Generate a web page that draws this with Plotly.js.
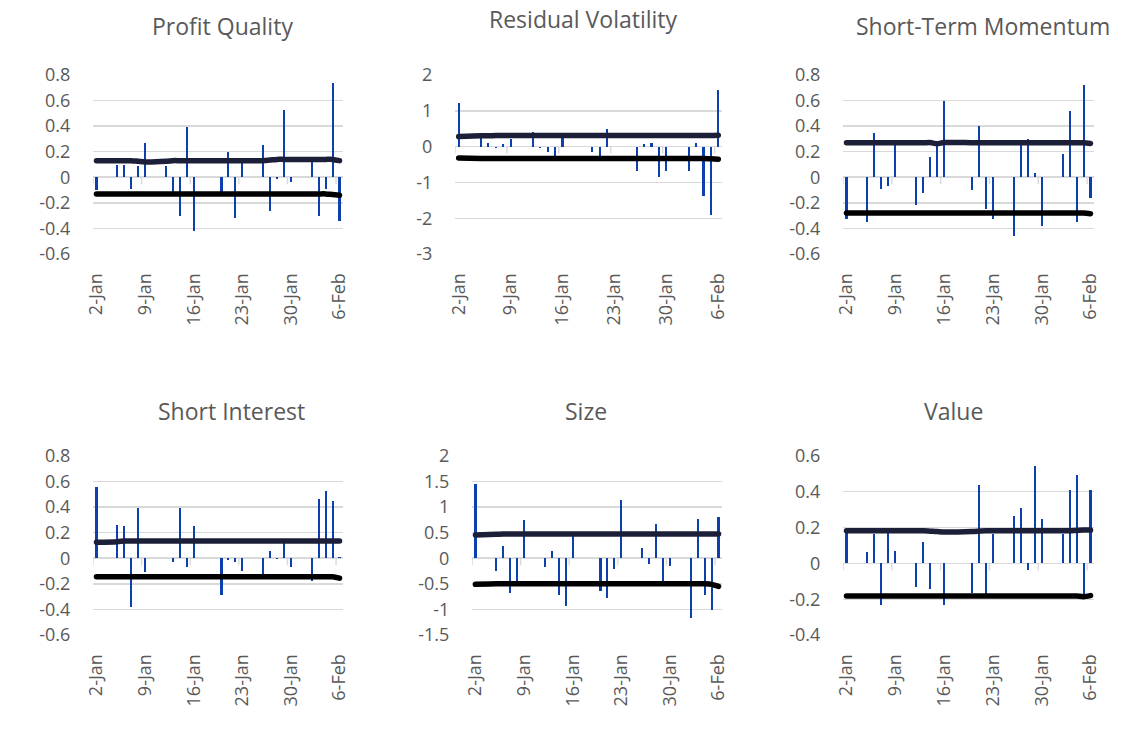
<!DOCTYPE html>
<html>
<head>
<meta charset="utf-8">
<script src="https://cdn.plot.ly/plotly-3.0.1.min.js"></script>
<style>html,body{margin:0;padding:0;background:#fff;}#chart{width:1135px;height:729px;}
#chart .scatterlayer path.js-line{stroke-linecap:round;}</style>
</head>
<body>
<div id="chart"></div>
<script>
// Business days, 2-Jan to 6-Feb 2015
const dates = ['2015-01-02','2015-01-05','2015-01-06','2015-01-07','2015-01-08','2015-01-09',
  '2015-01-12','2015-01-13','2015-01-14','2015-01-15','2015-01-16',
  '2015-01-20','2015-01-21','2015-01-22','2015-01-23',
  '2015-01-26','2015-01-27','2015-01-28','2015-01-29','2015-01-30',
  '2015-02-02','2015-02-03','2015-02-04','2015-02-05','2015-02-06'];

const xTickVals = ['2015-01-02','2015-01-09','2015-01-16','2015-01-23','2015-01-30','2015-02-06'];
const xTickText = ['2-Jan','9-Jan','16-Jan','23-Jan','30-Jan','6-Feb'];
const axisTickDates = ['2015-01-01 12:00','2015-01-08 12:00','2015-01-15 12:00','2015-01-22 12:00','2015-01-29 12:00','2015-02-05 12:00'];

const titles = ['Profit Quality','Residual Volatility','Short-Term Momentum','Short Interest','Size','Value'];

// Profit Quality
const pqBars  = [-0.10,0.10,0.10,-0.09,0.09,0.27,0.09,-0.12,-0.30,0.39,-0.42,-0.15,0.20,-0.32,0.13,0.25,-0.26,-0.01,0.53,-0.04,0.16,-0.30,-0.09,0.74,-0.34];
const pqUpper = [0.13,0.13,0.13,0.13,0.125,0.12,0.125,0.13,0.13,0.13,0.13,0.13,0.13,0.13,0.13,0.13,0.135,0.14,0.14,0.14,0.14,0.14,0.14,0.14,0.13];
const pqLower = [-0.13,-0.13,-0.13,-0.13,-0.13,-0.13,-0.13,-0.13,-0.13,-0.13,-0.13,-0.13,-0.13,-0.13,-0.13,-0.13,-0.13,-0.13,-0.13,-0.13,-0.13,-0.13,-0.13,-0.135,-0.14];
const pqTicks = [0.8,0.6,0.4,0.2,0,-0.2,-0.4,-0.6];
const pqTickText = ['0.8','0.6','0.4','0.2','0','-0.2','-0.4','-0.6'];

// Residual Volatility
const rvBars  = [1.21,0.26,0.11,-0.03,0.08,0.20,0.40,-0.05,-0.16,-0.28,0.24,-0.16,-0.28,0.50,0.00,-0.69,0.06,0.11,-0.84,-0.67,-0.67,0.11,-1.39,-1.90,1.59];
const rvUpper = [0.28,0.30,0.30,0.31,0.31,0.31,0.31,0.31,0.31,0.31,0.31,0.31,0.31,0.31,0.31,0.31,0.31,0.31,0.31,0.31,0.31,0.31,0.31,0.31,0.32];
const rvLower = [-0.32,-0.33,-0.33,-0.33,-0.33,-0.33,-0.33,-0.33,-0.33,-0.33,-0.33,-0.33,-0.33,-0.33,-0.33,-0.33,-0.33,-0.33,-0.33,-0.33,-0.33,-0.33,-0.33,-0.34,-0.35];
const rvTicks = [2,1,0,-1,-2,-3];
const rvTickText = ['2','1','0','-1','-2','-3'];

// Short-Term Momentum
const stBars  = [-0.33,-0.35,0.35,-0.09,-0.07,0.26,-0.22,-0.12,0.16,0.26,0.60,-0.10,0.40,-0.25,-0.33,-0.46,0.26,0.30,0.03,-0.38,0.18,0.52,-0.35,0.72,-0.16];
const stUpper = [0.27,0.27,0.27,0.27,0.27,0.27,0.27,0.27,0.272,0.262,0.272,0.27,0.27,0.27,0.27,0.27,0.27,0.27,0.27,0.27,0.27,0.27,0.27,0.27,0.265];
const stLower = [-0.28,-0.28,-0.28,-0.28,-0.28,-0.28,-0.28,-0.28,-0.28,-0.28,-0.28,-0.28,-0.28,-0.28,-0.28,-0.28,-0.28,-0.28,-0.28,-0.28,-0.28,-0.28,-0.28,-0.28,-0.285];
const stTicks = [0.8,0.6,0.4,0.2,0,-0.2,-0.4,-0.6];
const stTickText = ['0.8','0.6','0.4','0.2','0','-0.2','-0.4','-0.6'];

// Short Interest
const siBars  = [0.56,0.26,0.255,-0.38,0.39,-0.11,0.00,-0.03,0.39,-0.065,0.25,-0.29,-0.01,-0.026,-0.096,-0.15,0.06,-0.005,0.125,-0.065,-0.18,0.46,0.53,0.45,0.01];
const siUpper = [0.125,0.13,0.135,0.135,0.135,0.135,0.135,0.135,0.135,0.135,0.135,0.135,0.135,0.135,0.135,0.135,0.135,0.135,0.135,0.135,0.135,0.135,0.135,0.135,0.135];
const siLower = [-0.145,-0.145,-0.145,-0.145,-0.145,-0.145,-0.145,-0.145,-0.145,-0.145,-0.145,-0.145,-0.145,-0.145,-0.145,-0.145,-0.145,-0.145,-0.145,-0.145,-0.145,-0.145,-0.145,-0.145,-0.155];
const siTicks = [0.8,0.6,0.4,0.2,0,-0.2,-0.4,-0.6];
const siTickText = ['0.8','0.6','0.4','0.2','0','-0.2','-0.4','-0.6'];

// Size
const szBars  = [1.46,-0.25,0.25,-0.67,-0.47,0.74,-0.18,0.15,-0.71,-0.94,0.44,-0.63,-0.78,-0.21,1.13,0.21,-0.12,0.68,-0.47,-0.16,-1.17,0.76,-0.71,-1.02,0.81];
const szUpper = [0.455,0.47,0.475,0.475,0.475,0.475,0.475,0.475,0.475,0.475,0.475,0.475,0.475,0.475,0.475,0.475,0.475,0.475,0.475,0.475,0.475,0.475,0.475,0.475,0.475];
const szLower = [-0.51,-0.50,-0.50,-0.50,-0.50,-0.50,-0.50,-0.50,-0.50,-0.50,-0.50,-0.50,-0.50,-0.50,-0.50,-0.50,-0.50,-0.50,-0.50,-0.50,-0.50,-0.50,-0.50,-0.51,-0.55];
const szTicks = [2,1.5,1,0.5,0,-0.5,-1,-1.5];
const szTickText = ['2','1.5','1','0.5','0','-0.5','-1','-1.5'];

// Value
const vaBars  = [0.18,0.065,0.167,-0.232,0.195,0.069,-0.13,0.119,-0.143,0.00,-0.232,-0.164,0.437,-0.177,0.167,0.264,0.312,-0.037,0.545,0.247,0.167,0.409,0.493,-0.177,0.409];
const vaUpper = [0.182,0.182,0.182,0.182,0.182,0.182,0.182,0.182,0.18,0.178,0.175,0.178,0.18,0.182,0.182,0.182,0.182,0.182,0.182,0.182,0.182,0.182,0.184,0.186,0.186];
const vaLower = [-0.182,-0.182,-0.182,-0.182,-0.182,-0.182,-0.182,-0.182,-0.182,-0.182,-0.182,-0.182,-0.182,-0.182,-0.182,-0.182,-0.182,-0.182,-0.182,-0.182,-0.182,-0.182,-0.182,-0.186,-0.18];
const vaTicks = [0.6,0.4,0.2,0,-0.2,-0.4];
const vaTickText = ['0.6','0.4','0.2','0','-0.2','-0.4'];

const panels = [
  {bars: pqBars, up: pqUpper, lo: pqLower, ticks: pqTicks, tt: pqTickText, px: [93,343], py: [75,254], title: [222,26]},
  {bars: rvBars, up: rvUpper, lo: rvLower, ticks: rvTicks, tt: rvTickText, px: [455,722], py: [75,254], title: [583,19]},
  {bars: stBars, up: stUpper, lo: stLower, ticks: stTicks, tt: stTickText, px: [843,1094], py: [75,254], title: [983,26]},
  {bars: siBars, up: siUpper, lo: siLower, ticks: siTicks, tt: siTickText, px: [93,343], py: [456,635], title: [231,411]},
  {bars: szBars, up: szUpper, lo: szLower, ticks: szTicks, tt: szTickText, px: [472,722], py: [456,635], title: [586,411]},
  {bars: vaBars, up: vaUpper, lo: vaLower, ticks: vaTicks, tt: vaTickText, px: [843,1094], py: [456,635], title: [953,411]}
];

const W = 1135, H = 729;
const textColor = '#595959';
const fontFam = '"Open Sans", "DejaVu Sans", sans-serif';
const traces = [];
const layout = {
  width: W, height: H,
  margin: {l:0, r:0, t:0, b:0},
  paper_bgcolor: '#fff', plot_bgcolor: '#fff',
  showlegend: false,
  font: {family: fontFam, color: textColor},
  bargap: 0,
  annotations: [],
  shapes: []
};

panels.forEach((p, i) => {
  const n = i + 1;
  const xa = 'x' + (n === 1 ? '' : n);
  const ya = 'y' + (n === 1 ? '' : n);
  traces.push({
    type: 'bar', x: dates, y: p.bars, xaxis: xa, yaxis: ya,
    width: 0.3 * 86400000,
    marker: {color: '#0B40AE', line: {width: 0}},
    hoverinfo: 'skip'
  });
  traces.push({
    type: 'scatter', mode: 'lines', x: dates, y: p.up, xaxis: xa, yaxis: ya,
    line: {color: '#1c1f38', width: 5.5, shape: 'spline', smoothing: 0.8},
    hoverinfo: 'skip', cliponaxis: false
  });
  traces.push({
    type: 'scatter', mode: 'lines', x: dates, y: p.lo, xaxis: xa, yaxis: ya,
    line: {color: '#000000', width: 5.5, shape: 'spline', smoothing: 0.8},
    hoverinfo: 'skip', cliponaxis: false
  });
  const ymin = Math.min(...p.ticks), ymax = Math.max(...p.ticks);
  layout['xaxis' + (n === 1 ? '' : n)] = {
    type: 'date',
    domain: [p.px[0] / W, p.px[1] / W],
    anchor: ya,
    range: ['2015-01-01 12:00', '2015-02-06 12:00'],
    tickmode: 'array', tickvals: xTickVals, ticktext: xTickText,
    tickangle: -90,
    ticks: 'outside', ticklen: 11, tickcolor: 'rgba(0,0,0,0)',
    showgrid: false, zeroline: false, showline: false,
    tickfont: {size: 18, color: textColor, family: fontFam},
    fixedrange: true
  };
  layout['yaxis' + (n === 1 ? '' : n)] = {
    domain: [1 - p.py[1] / H, 1 - p.py[0] / H],
    anchor: xa,
    range: [ymin, ymax],
    tickmode: 'array', tickvals: p.ticks, ticktext: p.tt,
    ticks: 'outside', ticklen: 18, tickcolor: 'rgba(0,0,0,0)',
    showgrid: true, gridcolor: '#d9d9d9', gridwidth: 1.4,
    zeroline: true, zerolinecolor: '#d9d9d9', zerolinewidth: 1.6,
    showline: false,
    tickfont: {size: 18, color: textColor, family: fontFam},
    fixedrange: true
  };
  layout.annotations.push({
    text: titles[i], xref: 'paper', yref: 'paper',
    x: p.title[0] / W, y: 1 - p.title[1] / H,
    xanchor: 'center', yanchor: 'middle', showarrow: false,
    font: {size: 23, color: textColor, family: fontFam}
  });
  axisTickDates.forEach(d => {
    layout.shapes.push({
      type: 'line', xref: xa, yref: ya,
      x0: d, x1: d, ysizemode: 'pixel', yanchor: 0, y0: 0, y1: -7,
      line: {color: '#d9d9d9', width: 1.4}, layer: 'below'
    });
  });
});

Plotly.newPlot('chart', traces, layout, {displayModeBar: false, staticPlot: true});
</script>
</body>
</html>
